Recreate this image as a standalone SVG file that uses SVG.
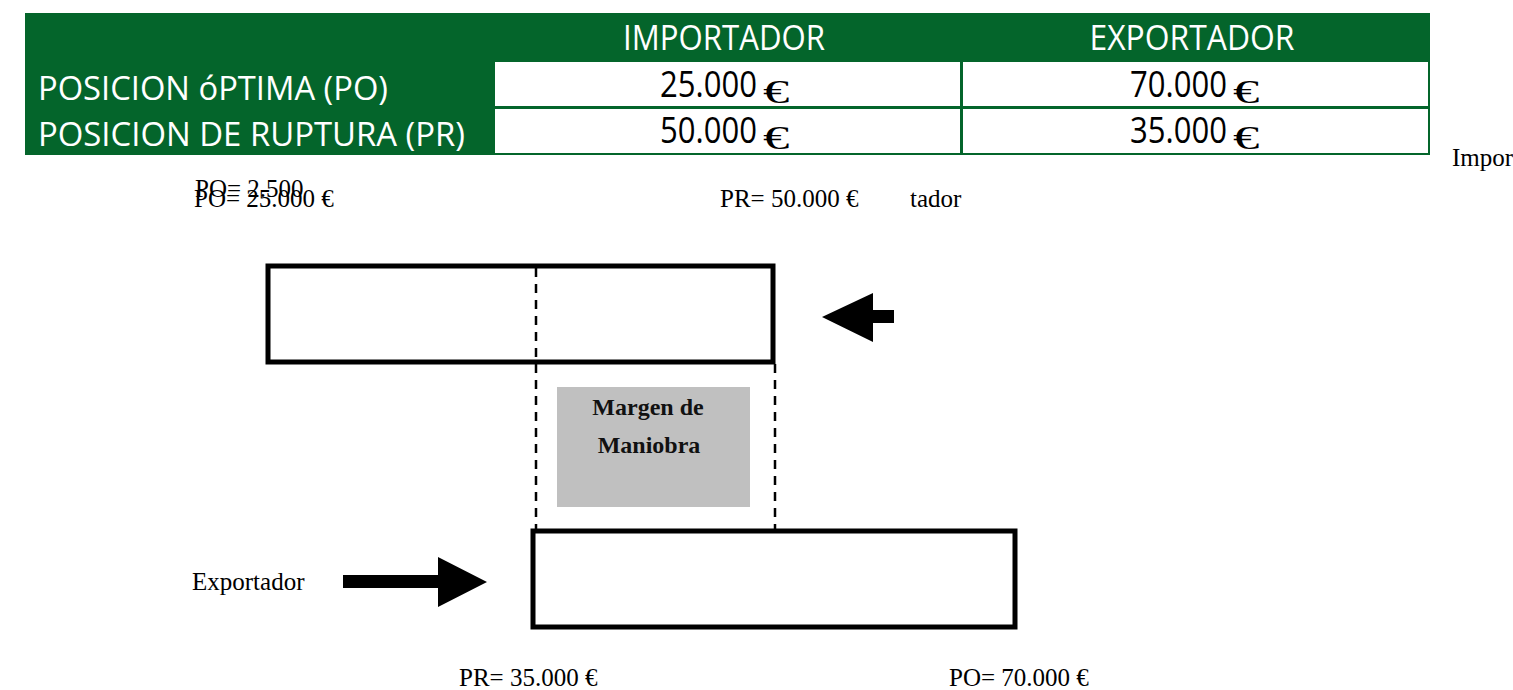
<svg xmlns="http://www.w3.org/2000/svg" width="1513" height="690" viewBox="0 0 1513 690">
<defs>
<style>
.hdr{font-family:"Open Sans","Noto Sans",sans-serif;font-size:32px;fill:#fff}
.side{font-family:"Open Sans","Noto Sans",sans-serif;font-size:33px;fill:#fff}
.val{font-family:"Open Sans","Noto Sans",sans-serif;font-size:31px;fill:#000}
.eur{font-family:"Liberation Serif",serif;font-size:34px;fill:#000}
.lbl{font-family:"Liberation Serif",serif;font-size:25px;fill:#000}
.bold{font-family:"Liberation Serif",serif;font-size:24px;font-weight:bold;fill:#111}
.box{fill:#fff;stroke:#000;stroke-width:5}
.dash{stroke:#000;stroke-width:2.5;stroke-dasharray:9,7;fill:none}
</style>
</defs>
<rect width="1513" height="690" fill="#fff"/>
<g id="table">
<rect x="25" y="13" width="1405" height="142" fill="#04652B"/>
<rect x="495" y="62" width="465" height="44" fill="#fff"/>
<rect x="963" y="62" width="465" height="44" fill="#fff"/>
<rect x="495" y="109" width="465" height="44" fill="#fff"/>
<rect x="963" y="109" width="465" height="44" fill="#fff"/>
<text class="hdr" transform="translate(724,50) scale(1,1.1)" text-anchor="middle" textLength="202" lengthAdjust="spacingAndGlyphs">IMPORTADOR</text>
<text class="hdr" transform="translate(1192,50) scale(1,1.1)" text-anchor="middle" textLength="205" lengthAdjust="spacingAndGlyphs">EXPORTADOR</text>
<text class="side" x="38" y="100" textLength="350" lengthAdjust="spacingAndGlyphs">POSICION óPTIMA (PO)</text>
<text class="side" x="38" y="146" textLength="427" lengthAdjust="spacingAndGlyphs">POSICION DE RUPTURA (PR)</text>
<text class="val" transform="translate(660,97) scale(1,1.2)" textLength="97" lengthAdjust="spacingAndGlyphs">25.000</text>
<text class="eur" transform="translate(763,103) scale(1.55,1)">€</text>
<text class="val" transform="translate(660,143) scale(1,1.2)" textLength="97" lengthAdjust="spacingAndGlyphs">50.000</text>
<text class="eur" transform="translate(763,149) scale(1.55,1)">€</text>
<text class="val" transform="translate(1130,97) scale(1,1.2)" textLength="97" lengthAdjust="spacingAndGlyphs">70.000</text>
<text class="eur" transform="translate(1233,103) scale(1.55,1)">€</text>
<text class="val" transform="translate(1130,143) scale(1,1.2)" textLength="97" lengthAdjust="spacingAndGlyphs">35.000</text>
<text class="eur" transform="translate(1233,149) scale(1.55,1)">€</text>
</g>
<g id="labels">
<text class="lbl" x="1452" y="166">Impor</text>
<text class="lbl" x="195" y="197">PO= 2.500</text>
<text class="lbl" x="194" y="207">PO= 25.000 €</text>
<text class="lbl" x="720" y="207">PR= 50.000 €</text>
<text class="lbl" x="910" y="207">tador</text>
<text class="lbl" x="192" y="590">Exportador</text>
<text class="lbl" x="459" y="686">PR= 35.000 €</text>
<text class="lbl" x="949" y="686">PO= 70.000 €</text>
</g>
<g id="importador-bar"><rect class="box" x="268" y="266" width="505" height="96"/></g>
<g id="exportador-bar"><rect class="box" x="533" y="531" width="482" height="96"/></g>
<g id="margen">
<rect x="557" y="387" width="193" height="120" fill="#c0c0c0"/>
<text class="bold" x="648" y="415" text-anchor="middle">Margen de</text>
<text class="bold" x="649" y="453" text-anchor="middle">Maniobra</text>
</g>
<g id="connectors">
<line class="dash" x1="536" y1="268" x2="536" y2="529"/>
<line class="dash" x1="775" y1="364" x2="775" y2="529"/>
<polygon points="822,317 873,293 873,310 894,310 894,323 873,323 873,342" fill="#000"/>
<polygon points="343,575 438,575 438,557 487,582 438,607 438,588 343,588" fill="#000"/>
</g>
</svg>
